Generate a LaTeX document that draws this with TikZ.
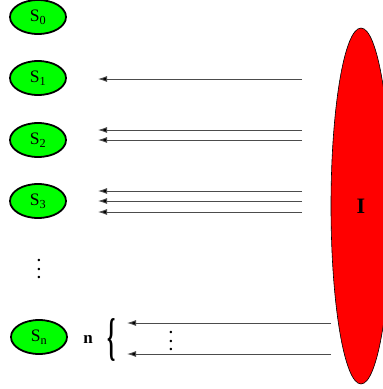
\documentclass[tikz,border=0pt]{standalone}
\usepackage{fontspec}
\setmainfont{Liberation Serif}
\usetikzlibrary{shapes.geometric,arrows.meta}

\tikzset{
  state/.style={ellipse,draw=black,line width=1.8pt,fill=green,
    minimum width=56pt,minimum height=34pt,inner sep=0pt,
    font=\fontsize{17.5}{19}\selectfont},
  flow/.style={-{Latex[length=9pt,width=6pt,fill=black]},line width=0.9pt,color=black!70},
  dots/.style={inner sep=0pt,align=center,font=\fontsize{15}{8.5}\selectfont\bfseries}
}

\begin{document}
\begin{tikzpicture}[x=1pt,y=-1pt]
\useasboundingbox (0,0) rectangle (383,389);
\clip (0,0) rectangle (383,389);
% states
\node[state] (S0) at (38,17) {S\textsubscript{0}};
\node[state] (S1) at (38,78) {S\textsubscript{1}};
\node[state] (S2) at (38,140) {S\textsubscript{2}};
\node[state] (S3) at (38,201) {S\textsubscript{3}};
\node[dots] (vd) at (39,269) {.\\.\\.};
\node[state] (Sn) at (39,337) {S\textsubscript{n}};
% intruder
\node[ellipse,draw=black,line width=0.6pt,fill=red,minimum width=60pt,
  minimum height=356pt,inner sep=0pt,font=\fontsize{22}{24}\selectfont\bfseries]
  (I) at (361,206) {I};
% arrow ends
\coordinate (a1) at (302,79);  \coordinate (b1) at (98,79);
\coordinate (a2) at (302,130); \coordinate (b2) at (98,130);
\coordinate (a3) at (302,140); \coordinate (b3) at (98,140);
\coordinate (a4) at (302,191); \coordinate (b4) at (98,191);
\coordinate (a5) at (302,201); \coordinate (b5) at (98,201);
\coordinate (a6) at (302,212); \coordinate (b6) at (98,212);
\coordinate (a7) at (331,323); \coordinate (b7) at (127,323);
\coordinate (a8) at (331,354); \coordinate (b8) at (127,354);
\draw[flow] (a1) -- (b1);
\draw[flow] (a2) -- (b2);
\draw[flow] (a3) -- (b3);
\draw[flow] (a4) -- (b4);
\draw[flow] (a5) -- (b5);
\draw[flow] (a6) -- (b6);
\draw[flow] (a7) -- (b7);
\draw[flow] (a8) -- (b8);
\node[dots] (md) at (171,341) {.\\.\\.};
% n brace
\node (n) at (88,339) {\fontsize{17}{18}\selectfont\bfseries n};
\node[inner sep=0pt] (br) at (112,340)
  {\scalebox{0.75}[1.85]{\fontsize{28}{28}\selectfont\bfseries\{}};
\end{tikzpicture}
\end{document}
